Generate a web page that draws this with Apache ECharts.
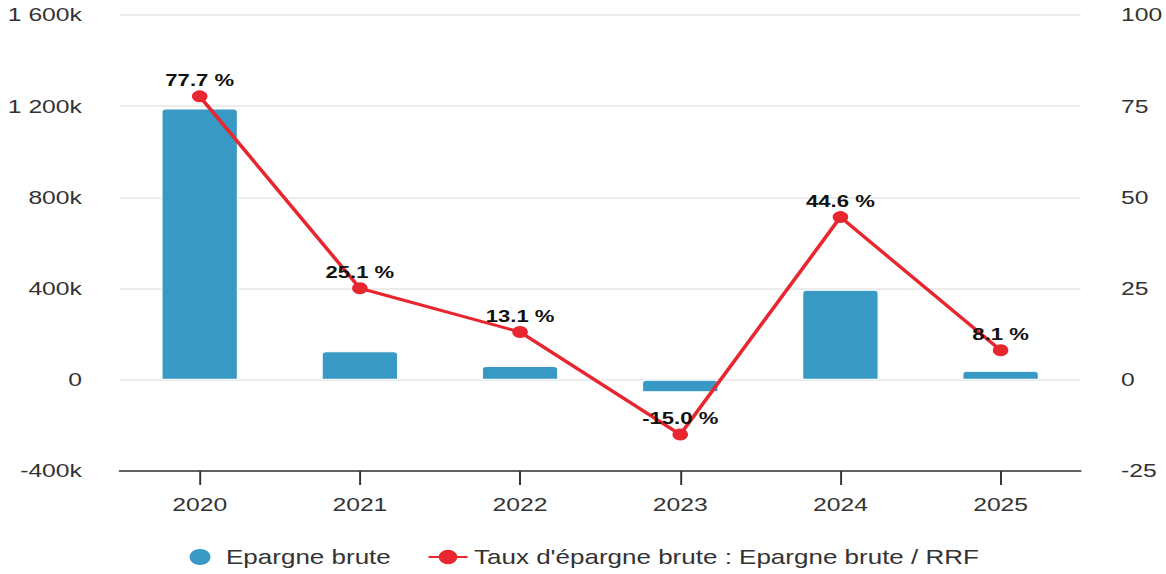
<!DOCTYPE html>
<html>
<head>
<meta charset="utf-8">
<script src="https://cdn.jsdelivr.net/npm/echarts@6/dist/echarts.min.js"></script>
<style>
    html, body { margin: 0; padding: 0; background: #fff; overflow: hidden; }
    /* the reference is stretched horizontally, so the chart is drawn narrower and scaled */
    #chart { width: 897px; height: 574px; transform: scaleX(1.3); transform-origin: 0 0; }
</style>
</head>
<body>
<div id="chart"></div>
<script>
const years = ['2020', '2021', '2022', '2023', '2024', '2025'];
const epargneBrute = [1190000, 125000, 60000, -55000, 395000, 40000];
const tauxEpargne = [77.7, 25.1, 13.1, -15.0, 44.6, 8.1];

const FONT = 'Liberation Sans, Arial, sans-serif';

function formatK(v) {
    if (v === 0) return '0';
    const k = v / 1000;
    const s = String(Math.abs(k)).replace(/\B(?=(\d{3})+(?!\d))/g, ' ');
    return (k < 0 ? '-' : '') + s + 'k';
}

const chart = echarts.init(document.getElementById('chart'), null, { renderer: 'svg' });

const option = {
    animation: false,
    textStyle: { fontFamily: FONT },
    grid: {
        left: 92,
        right: 62,
        top: 15,
        bottom: 103
    },
    legend: {
        bottom: 2,
        left: 'center',
        itemGap: 28,
        itemWidth: 30,
        itemHeight: 18,
        textStyle: { fontFamily: FONT, fontSize: 20, color: '#333' },
        data: [
            { name: 'Epargne brute', icon: 'circle' },
            { name: "Taux d'épargne brute : Epargne brute / RRF" }
        ]
    },
    xAxis: {
        type: 'category',
        data: years,
        axisLine: { onZero: false, lineStyle: { color: '#333', width: 1.5 } },
        axisTick: { show: true, interval: 0, alignWithLabel: true, length: 14, lineStyle: { color: '#333', width: 1.5 } },
        axisLabel: { fontSize: 19, color: '#333', margin: 24, fontFamily: FONT },
        splitLine: { show: false }
    },
    yAxis: [
        {
            type: 'value',
            min: -400000,
            max: 1600000,
            interval: 400000,
            axisLine: { show: false },
            axisTick: { show: false },
            axisLabel: { fontSize: 19, color: '#333', margin: 29, fontFamily: FONT, formatter: formatK },
            splitLine: { lineStyle: { color: '#e6e6e6', width: 1.5 } }
        },
        {
            type: 'value',
            min: -25,
            max: 100,
            interval: 25,
            axisLine: { show: false },
            axisTick: { show: false },
            axisLabel: { fontSize: 19, color: '#333', margin: 31, fontFamily: FONT },
            splitLine: { show: false }
        }
    ],
    series: [
        {
            name: 'Epargne brute',
            type: 'bar',
            data: epargneBrute,
            yAxisIndex: 0,
            barWidth: '48%',
            itemStyle: {
                color: '#3799c4',
                borderColor: '#ffffff',
                borderWidth: 1,
                borderRadius: [3, 3, 0, 0]
            }
        },
        {
            name: "Taux d'épargne brute : Epargne brute / RRF",
            type: 'line',
            data: tauxEpargne,
            yAxisIndex: 1,
            symbol: 'circle',
            symbolSize: 12,
            lineStyle: { color: '#e8262f', width: 3 },
            itemStyle: { color: '#e8262f' },
            z: 5,
            label: {
                show: true,
                position: 'top',
                distance: 2,
                fontSize: 17,
                fontWeight: 'bold',
                color: '#111',
                fontFamily: FONT,
                formatter: p => p.value.toFixed(1) + ' %'
            }
        }
    ]
};

chart.setOption(option);
</script>
</body>
</html>
